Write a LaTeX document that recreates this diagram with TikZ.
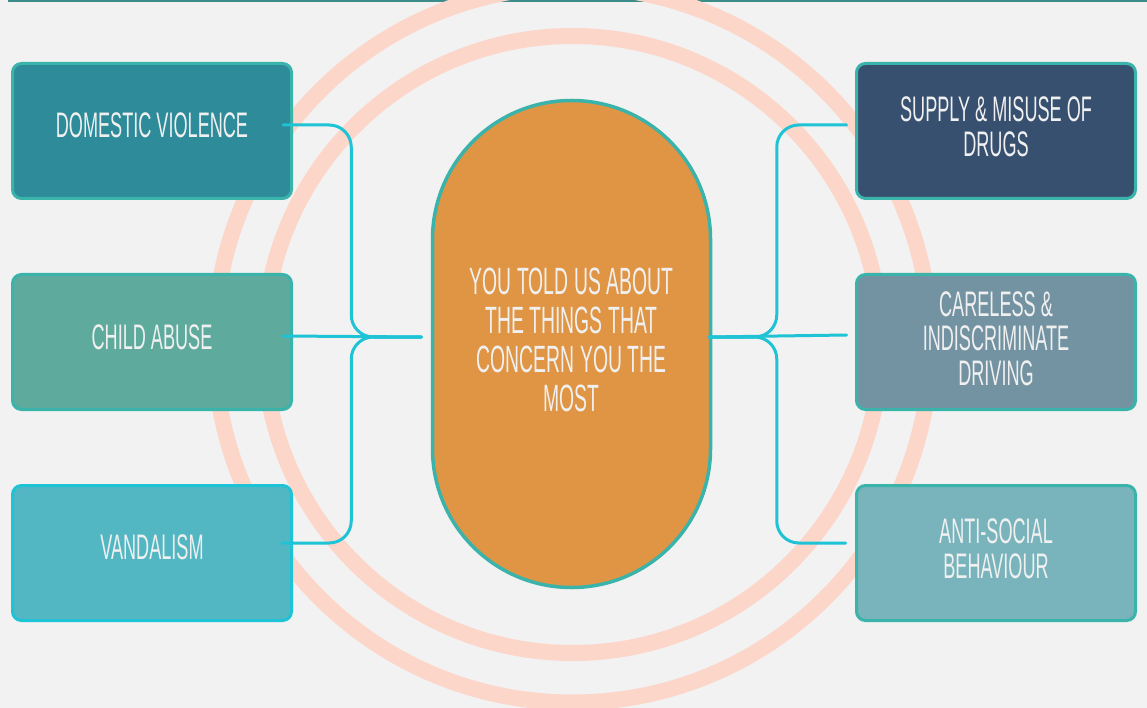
\documentclass[tikz,border=0pt]{standalone}
\usepackage{fontspec}
\newfontfamily\cond{Liberation Sans}[FakeStretch=0.51]
\usetikzlibrary{calc}
\definecolor{bg}{HTML}{F2F2F2}
\definecolor{ringc}{HTML}{FDD6CA}
\definecolor{edge}{HTML}{3AB3AA}
\definecolor{wire}{HTML}{1EC3D6}
\definecolor{txt}{HTML}{F0F0F0}
\definecolor{cDV}{HTML}{2E8B9A}
\definecolor{cCA}{HTML}{5EAB9E}
\definecolor{cVA}{HTML}{53B7C3}
\definecolor{cSU}{HTML}{37506F}
\definecolor{cCD}{HTML}{7393A2}
\definecolor{cAS}{HTML}{79B4BC}
\definecolor{cPill}{HTML}{E09545}
\definecolor{strip}{HTML}{3C8C8A}
\tikzset{
  box/.style={draw=edge, line width=3pt, rounded corners=9pt, minimum width=279pt, minimum height=135pt, inner sep=0pt},
  lbl/.style={text=txt, inner sep=0pt, align=center, font=\cond\fontsize{35.5}{34.5}\selectfont},
  clbl/.style={text=txt, inner sep=0pt, align=center, font=\cond\fontsize{38}{39}\selectfont},
  ring/.style={draw=ringc, line width=16pt},
  wirestyle/.style={draw=wire, line width=3pt, line cap=round, rounded corners=22pt},
}
\begin{document}
\begin{tikzpicture}[x=1pt,y=-1pt]
\useasboundingbox (0,0) rectangle (1147,708);
\fill[bg] (0,0) rectangle (1147,708);
\fill[strip] (8,0) rectangle (1147,2.2);
\begin{scope}
\clip (0,0) rectangle (1147,708);
\draw[ring] (572.5,344.5) circle (308.5);
\draw[ring] (572.5,344.5) circle (358);
\end{scope}
% boxes
\node[box, fill=cDV] (dv) at (152,131) {};
\node[box, fill=cCA] (ca) at (152,342) {};
\node[box, fill=cVA, draw=wire] (va) at (152,553) {};
\node[box, fill=cSU] (su) at (996,131) {};
\node[box, fill=cCD] (cd) at (996,342) {};
\node[box, fill=cAS] (as) at (996,553) {};
\node[lbl] (dvt) at ([yshift=5.5pt]dv.center) {DOMESTIC VIOLENCE};
\node[lbl] (cat) at ([yshift=5pt]ca.center) {CHILD ABUSE};
\node[lbl] (vat) at ([yshift=5.5pt]va.center) {VANDALISM};
\node[lbl] (sut) at ([yshift=4pt]su.center) {SUPPLY \& MISUSE OF\\DRUGS};
\node[lbl] (cdt) at ([yshift=3.5pt]cd.center) {CARELESS \&\\INDISCRIMINATE\\DRIVING};
\node[lbl] (ast) at ([yshift=4pt]as.center) {ANTI-SOCIAL\\BEHAVIOUR};
% pill
\node[draw=edge, fill=cPill, line width=3.5pt, rounded corners=138.9pt, minimum width=278pt, minimum height=487pt, inner sep=0pt] (pill) at (571.5,344) {};
\node[clbl] (pt) at ([yshift=4pt]pill.center) {YOU TOLD US ABOUT\\THE THINGS THAT\\CONCERN YOU THE\\MOST};
% connector points
\coordinate (lj) at ([shift={(-79.5,-7)}]pill.west);
\coordinate (lend) at ([shift={(-9.5,-7)}]pill.west);
\coordinate (rj) at ([shift={(64.5,-7)}]pill.east);
\coordinate (rend) at ([shift={(-3.5,-7)}]pill.east);
\coordinate (dvA) at ([shift={(-10,-6)}]dv.east);
\coordinate (caA) at ([shift={(-10,-6)}]ca.east);
\coordinate (vaA) at ([shift={(-11,-10)}]va.east);
\coordinate (suA) at ([shift={(-8.5,-6)}]su.west);
\coordinate (cdA) at ([shift={(-8.5,-7)}]cd.west);
\coordinate (asA) at ([shift={(-9.5,-10)}]as.west);
% connectors
\draw[wirestyle] (dvA) -| (lj) -- (lend);
\draw[wirestyle] (vaA) -| (lj) -- (lend);
\draw[wirestyle] (caA) -- (lend);
\draw[wirestyle] (suA) -| (rj) -- (rend);
\draw[wirestyle] (asA) -| (rj) -- (rend);
\draw[wirestyle] (cdA) -- (rend);
\end{tikzpicture}
\end{document}
